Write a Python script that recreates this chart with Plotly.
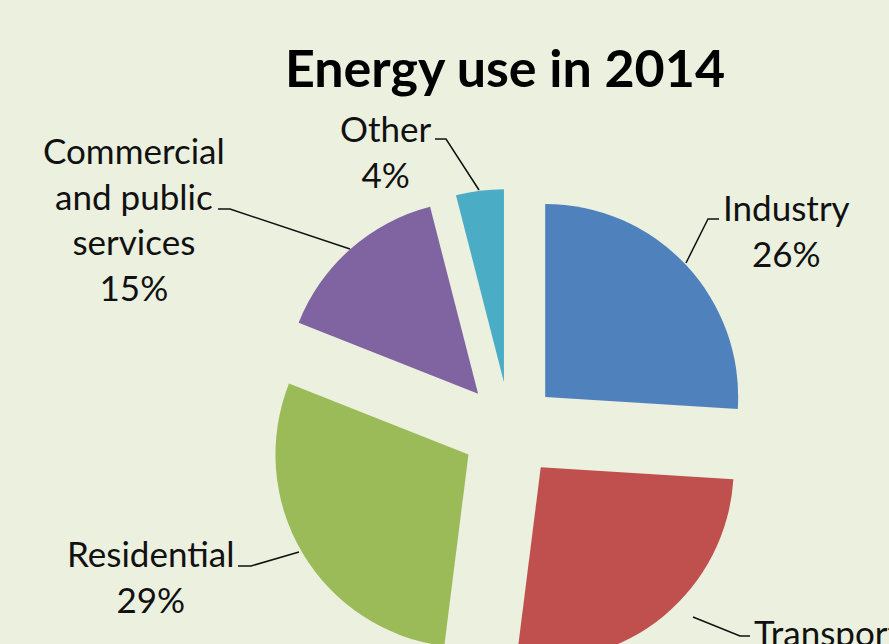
import plotly.graph_objects as go

# ---- data ----
categories = ["Industry", "Transport", "Residential", "Commercial and public services", "Other"]
label_text = ["Industry", "Transport", "Residential", "Commercial<br>and public<br>services", "Other"]
shares = [26, 26, 29, 15, 4]
colors = ["#4F81BD", "#C0504D", "#9BBB59", "#8064A2", "#4BACC6"]

W, H = 889, 720
BG = "#EBF0DF"

def px(x):
    return x / W

def py(y):
    return 1 - y / H

# pie geometry (page px): centre and radius
cx, cy, r, pull = 510, 430, 193, 0.25
half = r * (1 + pull)

fig = go.Figure()
fig.add_trace(go.Pie(
    labels=categories,
    values=shares,
    sort=False,
    direction="clockwise",
    rotation=0,
    pull=[pull] * len(shares),
    marker=dict(colors=colors, line=dict(width=0)),
    textinfo="none",
    hoverinfo="label+percent",
    showlegend=False,
    domain=dict(x=[px(cx - half), px(cx + half)], y=[py(cy + half), py(cy - half)]),
))

# label placement (page px: centre x, top y)
label_pos = [(786, 184), (827, 609), (150, 530), (134, 127), (386, 105)]
FONT = "Lato, 'Open Sans', sans-serif"
annotations = []
for lab, v, (x, y) in zip(label_text, shares, label_pos):
    annotations.append(dict(
        text=f"{lab}<br>{v}%", x=px(x), y=py(y), xref="paper", yref="paper",
        xanchor="center", yanchor="top", showarrow=False, align="center",
        font=dict(family=FONT, size=35, color="#111111"),
    ))

# leader lines (page px polylines)
leaders = [
    [(719, 219), (708, 219), (686, 263)],
    [(750, 636), (740, 636), (693, 617)],
    [(238, 566), (251, 566), (299, 552)],
    [(218, 209), (230, 209), (350, 249)],
    [(435, 139), (446, 139), (479, 190)],
]
shapes = []
for pts in leaders:
    path = "M " + " L ".join(f"{px(x):.5f},{py(y):.5f}" for x, y in pts)
    shapes.append(dict(type="path", path=path, xref="paper", yref="paper",
                       line=dict(color="#111111", width=1.5)))

fig.update_layout(
    width=W, height=H,
    margin=dict(l=0, r=0, t=0, b=0),
    paper_bgcolor=BG, plot_bgcolor=BG,
    title=dict(text="<b>Energy use in 2014</b>", x=px(505), xanchor="center",
               y=py(69), yanchor="middle",
               font=dict(family="Lato, 'Open Sans', sans-serif", size=52, color="#000000")),
    annotations=annotations,
    shapes=shapes,
)

fig.write_html("out.html",
               post_script="document.body.style.margin='0';document.body.style.overflow='hidden';document.documentElement.style.overflow='hidden';")
